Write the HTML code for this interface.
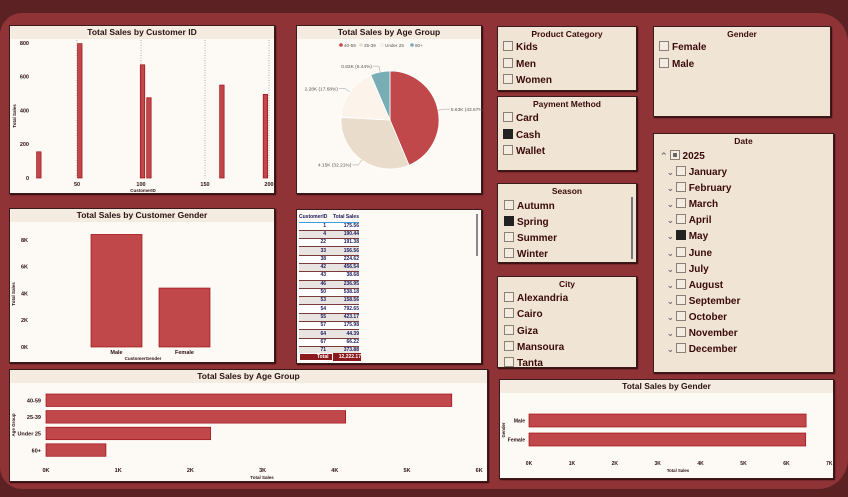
<!DOCTYPE html>
<html><head><meta charset="utf-8">
<style>
*{box-sizing:border-box;margin:0;padding:0}
body{width:848px;height:497px;overflow:hidden;background:#5c2123;font-family:"Liberation Sans",sans-serif;position:relative}
#bg{position:absolute;left:0;top:13px;width:848px;height:476px;background:#8f3337;border-radius:22px 30px 30px 22px}
.card{position:absolute;background:#fdfaf5;border:1px solid #3a1a1a;box-shadow:1px 1px 1px #2a0a0a}
.ttl{position:absolute;left:0;right:0;top:0;height:13px;background:#f4ece1;font-weight:bold;font-size:8.5px;color:#2a1010;text-align:center;line-height:13px}
.sl{position:absolute;background:#f0e4d5;border:1px solid #3a1a1a;box-shadow:1px 1px 1px #2a0a0a}
.sl .h{text-align:center;font-weight:bold;font-size:8.5px;color:#3a0a0a;margin-top:2px;height:11px}
.it{position:absolute;font-weight:bold;font-size:10px;color:#3a0a0a;height:12px;line-height:12px}
.cb{display:inline-block;width:10px;height:10px;border:1px solid #8a8078;background:#f4ece0;vertical-align:-1px;margin-right:3px}
.cb.on{background:#222;border-color:#222}
svg text{font-family:"Liberation Sans",sans-serif}
table{border-collapse:collapse;font-size:5px;font-weight:bold;color:#1a1a5a;table-layout:fixed}
td{height:8.3px;line-height:7px;padding:0;overflow:hidden;white-space:nowrap}
</style></head><body>
<div id="bg"></div>

<div class="card" style="left:9px;top:25px;width:266px;height:169px">
<div class="ttl">Total Sales by Customer ID</div>
<svg id="c1" width="266" height="169" style="position:absolute;left:0;top:0"></svg></div>

<div class="card" style="left:296px;top:25px;width:186px;height:169px">
<div class="ttl">Total Sales by Age Group</div>
<svg id="c2" width="186" height="169" style="position:absolute;left:0;top:0"></svg></div>

<div class="card" style="left:9px;top:208px;width:266px;height:155px">
<div class="ttl">Total Sales by Customer Gender</div>
<svg id="c3" width="266" height="155" style="position:absolute;left:0;top:0"></svg></div>

<div class="card" style="left:296px;top:209px;width:186px;height:155px;overflow:hidden">
<div style="position:absolute;left:2px;top:3px;width:62px;height:141px;overflow:hidden" id="tbl"></div>
<div id="tot" style="position:absolute;left:2px;top:143px;width:62px;height:8px;background:#8b1a1e;color:#fff;font-size:5px;font-weight:bold;display:flex"><span style="flex:1;text-align:right;padding-right:3px;border:1px solid #fff;line-height:6px">Total</span><span style="flex:1;text-align:right;line-height:8px">12,222.17</span></div>
<div style="position:absolute;right:3px;top:4px;width:2px;height:42px;background:#888"></div>
</div>

<div class="card" style="left:9px;top:369px;width:479px;height:113px">
<div class="ttl">Total Sales by Age Group</div>
<svg id="c4" width="479" height="113" style="position:absolute;left:0;top:0"></svg></div>

<div class="card" style="left:499px;top:379px;width:335px;height:100px">
<div class="ttl">Total Sales by Gender</div>
<svg id="c5" width="335" height="100" style="position:absolute;left:0;top:0"></svg></div>

<div class="sl" style="left:497px;top:26px;width:140px;height:65px" id="s1"><div class="h">Product Category</div></div>
<div class="sl" style="left:497px;top:96px;width:140px;height:75px" id="s2"><div class="h">Payment Method</div></div>
<div class="sl" style="left:653px;top:26px;width:178px;height:91px" id="s3"><div class="h">Gender</div></div>
<div class="sl" style="left:497px;top:183px;width:140px;height:80px" id="s4"><div class="h">Season</div>
<div style="position:absolute;right:3px;top:13px;width:2px;height:62px;background:#777"></div></div>
<div class="sl" style="left:497px;top:276px;width:140px;height:92px" id="s5"><div class="h">City</div></div>
<div class="sl" style="left:653px;top:133px;width:181px;height:240px" id="s6"><div class="h">Date</div></div>

<script>
var NS="http://www.w3.org/2000/svg";
function mk(p,t,a,txt){var e=document.createElementNS(NS,t);for(var k in a)e.setAttribute(k,a[k]);if(txt!=null)e.textContent=txt;p.appendChild(e);return e;}
var RED="#c0474a",EDGE="#a01018",TXT="#2a1010";

// Chart 1: customer id
var custIds=[20,52,101,106,163,197];
var custSales=[155,795,670,475,550,495];
var c1XTicks=[50,100,150,200];
var c1YTicks=[0,200,400,600,800];
(function(){
 var s=document.getElementById('c1');
 var x=function(v){return 3+v*1.28;}, y=function(v){return 152-v*0.169;};
 c1XTicks.forEach(function(t){
  var l=mk(s,'line',{x1:x(t),x2:x(t),y1:14,y2:152,stroke:'#aaa','stroke-dasharray':'1,1.5'});
  
  var tx=mk(s,'text',{x:x(t),y:160,'font-size':5.5,'text-anchor':'middle',fill:TXT,'font-weight':'bold'},t);
  
 });
 c1YTicks.forEach(function(t){
  var tx=mk(s,'text',{x:19,y:y(t)+2,'font-size':5.5,'text-anchor':'end',fill:TXT,'font-weight':'bold'},t);
  
 });
 custIds.forEach(function(id,i){
  var r=mk(s,'rect',{x:x(id)-2,y:y(custSales[i]),width:4.5,height:152-y(custSales[i]),fill:RED,stroke:EDGE,'stroke-width':0.7});
  
 });
 var a=mk(s,'text',{x:133,y:166,'font-size':4.5,'text-anchor':'middle',fill:TXT,'font-weight':'bold'},'CustomerID');
 
 var b=mk(s,'text',{x:6,y:90,'font-size':4.5,'text-anchor':'middle',fill:TXT,'font-weight':'bold',transform:'rotate(-90 6 90)'},'Total Sales');
 
})();

// Chart 2: pie
var pieLabels=['40-59','25-39','Under 25','60+'];
var pieValues=[5.63,4.15,2.28,0.83];
var piePct=['43.67%','32.21%','17.68%','6.44%'];
var pieColors=['#c0474a','#eadccb','#fcf3ea','#79adb6'];
(function(){
 var s=document.getElementById('c2');
 var cx=93,cy=94,r=49,tot=pieValues.reduce(function(a,b){return a+b},0);
 var lx=[44,64,85,115];
 pieLabels.forEach(function(l,i){
  mk(s,'circle',{cx:lx[i],cy:19,r:1.8,fill:pieColors[i],stroke:i==2?'#ddd':'none','stroke-width':0.4});
  var t=mk(s,'text',{x:lx[i]+3,y:20.8,'font-size':4.6,fill:'#555'},l);
  
 });
 var a0=-Math.PI/2;
 pieValues.forEach(function(v,i){
  var a1=a0+v/tot*2*Math.PI;
  var x0=cx+r*Math.cos(a0),y0=cy+r*Math.sin(a0),x1=cx+r*Math.cos(a1),y1=cy+r*Math.sin(a1);
  var p=mk(s,'path',{d:'M'+cx+','+cy+'L'+x0+','+y0+'A'+r+','+r+' 0 '+((a1-a0)>Math.PI?1:0)+' 1 '+x1+','+y1+'Z',fill:pieColors[i],stroke:'#fff','stroke-width':0.8});
  
  var am=(a0+a1)/2,ex=cx+(r+6)*Math.cos(am),ey=cy+(r+6)*Math.sin(am);
  var right=Math.cos(am)>0;
  var lxx=ex+(right?6:-6);
  mk(s,'polyline',{points:(cx+r*Math.cos(am))+','+(cy+r*Math.sin(am))+' '+ex+','+ey+' '+lxx+','+ey,fill:'none',stroke:'#999','stroke-width':0.5});
  var t=mk(s,'text',{x:lxx+(right?1:-1),y:ey+1.8,'font-size':4.8,fill:'#555','text-anchor':right?'start':'end'},v.toFixed(2)+'K ('+piePct[i]+')');
  
  a0=a1;
 });
})();

// Chart 3: gender columns
var genderCats=['Male','Female'];
var genderColVals=[8.4,4.4];
var c3YTicks=[0,2,4,6,8];
(function(){
 var s=document.getElementById('c3');
 var y=function(v){return 138-v*13.4;};
 var xs=[81,149];
 c3YTicks.forEach(function(t){
  var tx=mk(s,'text',{x:18,y:y(t)+2,'font-size':5.5,'text-anchor':'end',fill:TXT,'font-weight':'bold'},t+'K');
  
 });
 genderCats.forEach(function(c,i){
  var r=mk(s,'rect',{x:xs[i],y:y(genderColVals[i]),width:51,height:138-y(genderColVals[i]),fill:RED,stroke:EDGE,'stroke-width':0.7});
  
  var t=mk(s,'text',{x:xs[i]+25.5,y:145,'font-size':5.5,'text-anchor':'middle',fill:TXT,'font-weight':'bold'},c);
  
 });
 var a=mk(s,'text',{x:133,y:151,'font-size':4.5,'text-anchor':'middle',fill:TXT,'font-weight':'bold'},'CustomerGender');
 
 var b=mk(s,'text',{x:5,y:85,'font-size':4.5,'text-anchor':'middle',fill:TXT,'font-weight':'bold',transform:'rotate(-90 5 85)'},'Total Sales');
 
})();

// Chart 4: age group bars
var ageCats=['40-59','25-39','Under 25','60+'];
var ageVals=[5.62,4.15,2.28,0.83];
var c4XTicks=[0,1,2,3,4,5,6];
(function(){
 var s=document.getElementById('c4');
 var x=function(v){return 36+v*72.2;};
 ageCats.forEach(function(c,i){
  var yy=24+i*16.6;
  var r=mk(s,'rect',{x:x(0),y:yy,width:x(ageVals[i])-x(0),height:12.5,fill:RED,stroke:EDGE,'stroke-width':0.7});
  
  var t=mk(s,'text',{x:31,y:yy+8.5,'font-size':5.5,'text-anchor':'end',fill:TXT,'font-weight':'bold'},c);
  
 });
 c4XTicks.forEach(function(t){
  var tx=mk(s,'text',{x:x(t),y:102,'font-size':5.5,'text-anchor':'middle',fill:TXT,'font-weight':'bold'},t+'K');
  
 });
 var a=mk(s,'text',{x:252,y:109,'font-size':4.5,'text-anchor':'middle',fill:TXT,'font-weight':'bold'},'Total Sales');
 
 var b=mk(s,'text',{x:5,y:55,'font-size':4.5,'text-anchor':'middle',fill:TXT,'font-weight':'bold',transform:'rotate(-90 5 55)'},'Age Group');
 
})();

// Chart 5: gender bars
var genderBarCats=['Male','Female'];
var genderBarVals=[6.46,6.45];
var c5XTicks=[0,1,2,3,4,5,6,7];
(function(){
 var s=document.getElementById('c5');
 var x=function(v){return 29+v*42.9;};
 genderBarCats.forEach(function(c,i){
  var yy=34+i*19;
  var r=mk(s,'rect',{x:x(0),y:yy,width:x(genderBarVals[i])-x(0),height:13,fill:RED,stroke:EDGE,'stroke-width':0.7});
  
  var t=mk(s,'text',{x:25,y:yy+8.5,'font-size':5,'text-anchor':'end',fill:TXT,'font-weight':'bold'},c);
  
 });
 c5XTicks.forEach(function(t){
  var tx=mk(s,'text',{x:x(t),y:85,'font-size':5,'text-anchor':'middle',fill:TXT,'font-weight':'bold'},t+'K');
  
 });
 var a=mk(s,'text',{x:178,y:92,'font-size':4.3,'text-anchor':'middle',fill:TXT,'font-weight':'bold'},'Total Sales');
 
 var b=mk(s,'text',{x:5,y:50,'font-size':4.3,'text-anchor':'middle',fill:TXT,'font-weight':'bold',transform:'rotate(-90 5 50)'},'Gender');
 
})();

// Table
var tblIds=[1,4,22,33,38,42,43,46,50,53,54,55,57,64,67,71,74];
var tblSales=['175.56','190.44','191.38','156.56','224.62','456.54','38.68','236.95','538.18','158.56','792.65','423.17','175.98','44.39','66.22','373.88','303.40'];
(function(){
 var d=document.getElementById('tbl');
 var h='<table style="width:60px"><colgroup><col style="width:30px"><col style="width:30px"></colgroup><tr style="border-bottom:1px solid #3aa0e0"><td style="text-align:left;height:9px">CustomerID</td><td style="text-align:right">Total Sales</td></tr>';
 tblIds.forEach(function(id,i){
  h+='<tr style="border-bottom:1px solid #7a3a3a;background:'+(i%2?'#e8e4e2':'#fff')+'"><td style="text-align:right;padding-right:3px">'+id+'</td><td style="text-align:right">'+tblSales[i]+'</td></tr>';
 });
 h+='</table>';
 d.innerHTML=h;
 
 
})();

// Slicers
function slicer(id,items,checked,x0,dy,y0){
 var p=document.getElementById(id);
 items.forEach(function(t,i){
  var e=document.createElement('div');
  e.className='it';
  e.style.left=x0+'px';e.style.top=(y0+i*dy)+'px';
  e.innerHTML='<span class="cb'+(checked.indexOf(t)>=0?' on':'')+'"></span>'+t;
  
  
  p.appendChild(e);
 });
}
slicer('s1',['Kids','Men','Women'],[],5,16.5,14);
slicer('s2',['Card','Cash','Wallet'],['Cash'],5,16.5,15);
slicer('s3',['Female','Male'],[],5,17,14);
slicer('s4',['Autumn','Spring','Summer','Winter'],['Spring'],6,16,16);
slicer('s5',['Alexandria','Cairo','Giza','Mansoura','Tanta'],[],6,16.3,15);
(function(){
 var p=document.getElementById('s6');
 var y=document.createElement('div');
 y.className='it';y.style.left='6px';y.style.top='16px';
 y.innerHTML='<span style="color:#777;font-size:9px;margin-right:2px">&#8963;</span><span class="cb" style="box-shadow:inset 0 0 0 2px #f4ece0;background-color:#666"></span>2025';
 
 
 p.appendChild(y);
 var months=['January','February','March','April','May','June','July','August','September','October','November','December'];
 months.forEach(function(m,i){
  var e=document.createElement('div');
  e.className='it';e.style.left='13px';e.style.top=(32+i*16.1)+'px';
  e.innerHTML='<span style="color:#777;font-size:8px;margin-right:2px">&#8964;</span><span class="cb'+(m==='May'?' on':'')+'"></span>'+m;
  
  
  p.appendChild(e);
 });
})();
</script>
</body></html>
